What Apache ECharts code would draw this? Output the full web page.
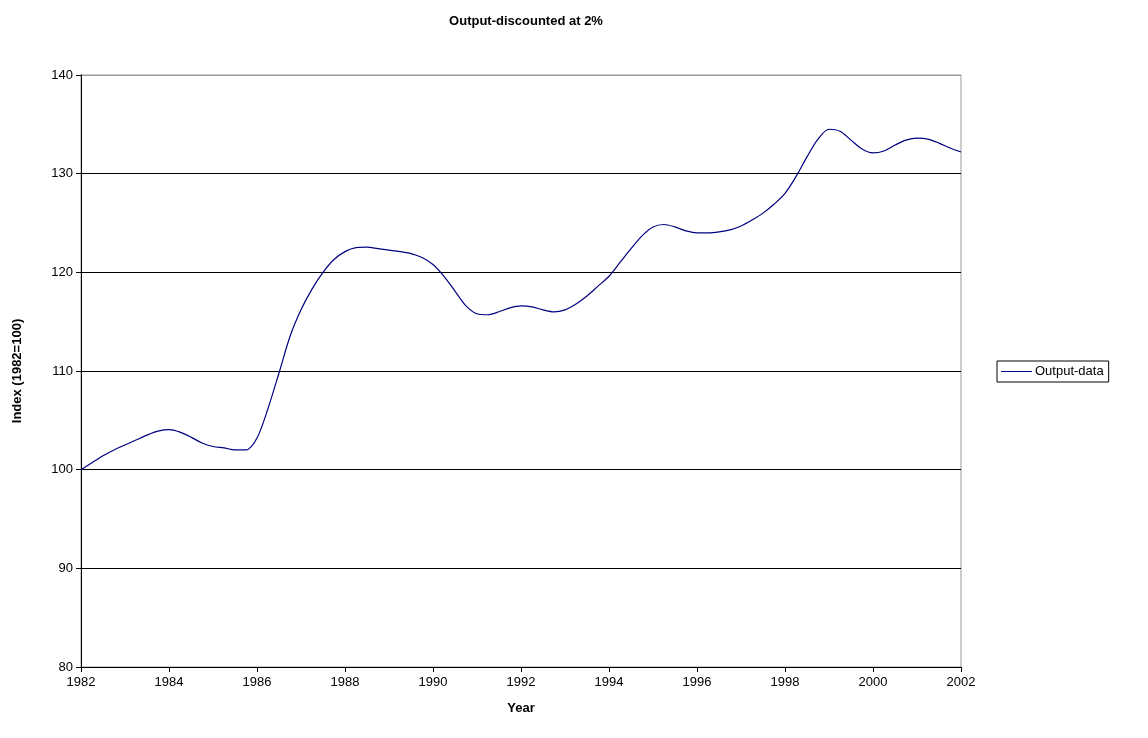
<!DOCTYPE html>
<html>
<head>
<meta charset="utf-8">
<title>Output-discounted at 2%</title>
<script src="https://cdn.jsdelivr.net/npm/echarts@6/dist/echarts.min.js"></script>
<style>
  html, body { margin: 0; padding: 0; background: #fff; }
  #chart { width: 1148px; height: 738px; }
</style>
</head>
<body>
<div id="chart"></div>
<script>
// quarterly observations, 1982 Q1 .. 2002 Q1
const years = [
  1982.00, 1982.25, 1982.50, 1982.75, 1983.00, 1983.25, 1983.50, 1983.75,
  1984.00, 1984.25, 1984.50, 1984.75, 1985.00, 1985.25, 1985.50, 1985.75,
  1986.00, 1986.25, 1986.50, 1986.75, 1987.00, 1987.25, 1987.50, 1987.75,
  1988.00, 1988.25, 1988.50, 1988.75, 1989.00, 1989.25, 1989.50, 1989.75,
  1990.00, 1990.25, 1990.50, 1990.75, 1991.00, 1991.25, 1991.50, 1991.75,
  1992.00, 1992.25, 1992.50, 1992.75, 1993.00, 1993.25, 1993.50, 1993.75,
  1994.00, 1994.25, 1994.50, 1994.75, 1995.00, 1995.25, 1995.50, 1995.75,
  1996.00, 1996.25, 1996.50, 1996.75, 1997.00, 1997.25, 1997.50, 1997.75,
  1998.00, 1998.25, 1998.50, 1998.75, 1999.00, 1999.25, 1999.50, 1999.75,
  2000.00, 2000.25, 2000.50, 2000.75, 2001.00, 2001.25, 2001.50, 2001.75,
  2002.00
];
const outputData = [
  100.0, 100.7, 101.4, 102.0, 102.5, 103.0, 103.5, 103.9,
  104.05, 103.8, 103.3, 102.7, 102.35, 102.2, 102.0, 102.0,
  103.2, 106.2, 109.8, 113.5, 116.2, 118.3, 120.0, 121.3,
  122.1, 122.5, 122.55, 122.4, 122.25, 122.1, 121.9, 121.5,
  120.8, 119.6, 118.1, 116.6, 115.8, 115.7, 116.0, 116.4,
  116.6, 116.5, 116.2, 116.0, 116.2, 116.8, 117.6, 118.6,
  119.6, 121.0, 122.4, 123.7, 124.6, 124.85, 124.6, 124.2,
  124.0, 124.0, 124.1, 124.3, 124.7, 125.3, 126.0, 126.9,
  128.0, 129.7, 131.7, 133.5, 134.5, 134.3, 133.4, 132.5,
  132.1, 132.3, 132.9, 133.4, 133.6, 133.5, 133.1, 132.6,
  132.2
];

const chart = echarts.init(document.getElementById('chart'))

const font = 'Liberation Sans, Arial, sans-serif'

const option = {
  animation: false,
  title: {
    text: 'Output-discounted at 2%',
    left: 521,
    top: 10,
    textAlign: 'center',
    textStyle: { fontFamily: font, fontSize: 13, fontWeight: 'bold', color: '#000' }
  },
  legend: {
    left: 997,
    top: 361,
    orient: 'vertical',
    padding: [4, 5, 4, 4],
    itemGap: 0,
    itemWidth: 31,
    itemHeight: 1,
    icon: 'rect',
    borderColor: '#000',
    borderWidth: 1,
    borderRadius: 0,
    textStyle: { fontFamily: font, fontSize: 13, color: '#000', padding: [0, 0, 0, -2] },
    data: ['Output-data']
  },
  grid: {
    left: 81,
    right: 187,
    top: 75,
    bottom: 71,
    show: true,
    borderColor: '#999',
    borderWidth: 1
  },
  xAxis: {
    type: 'value',
    min: 1982,
    max: 2002,
    interval: 2,
    name: 'Year',
    nameLocation: 'middle',
    nameGap: 35,
    nameTextStyle: { fontFamily: font, fontSize: 13, fontWeight: 'bold', color: '#000' },
    axisLine: { lineStyle: { color: '#000', width: 1 } },
    axisTick: { length: 5, lineStyle: { color: '#000' } },
    axisLabel: {
      fontFamily: font, fontSize: 13, color: '#000', margin: 9,
      formatter: v => String(v)
    },
    splitLine: { show: false }
  },
  yAxis: {
    type: 'value',
    min: 80,
    max: 140,
    interval: 10,
    name: 'Index (1982=100)',
    nameLocation: 'middle',
    nameGap: 57,
    nameTextStyle: { fontFamily: font, fontSize: 13, fontWeight: 'bold', color: '#000' },
    axisLine: { show: true, lineStyle: { color: '#000', width: 1 } },
    axisTick: { show: true, length: 5, lineStyle: { color: '#000' } },
    axisLabel: { fontFamily: font, fontSize: 13, color: '#000', margin: 8 },
    splitLine: {
      show: true,
      lineStyle: { color: ['#000', '#000', '#000', '#000', '#000', '#000', '#999'], width: 1 }
    }
  },
  series: [
    {
      name: 'Output-data',
      type: 'line',
      data: years.map((y, i) => [y, outputData[i]]),
      smooth: 0.3,
      symbol: 'none',
      lineStyle: { color: '#000080', width: 1.2 },
      itemStyle: { color: '#000080' }
    }
  ]
}

chart.setOption(option)
</script>
</body>
</html>
